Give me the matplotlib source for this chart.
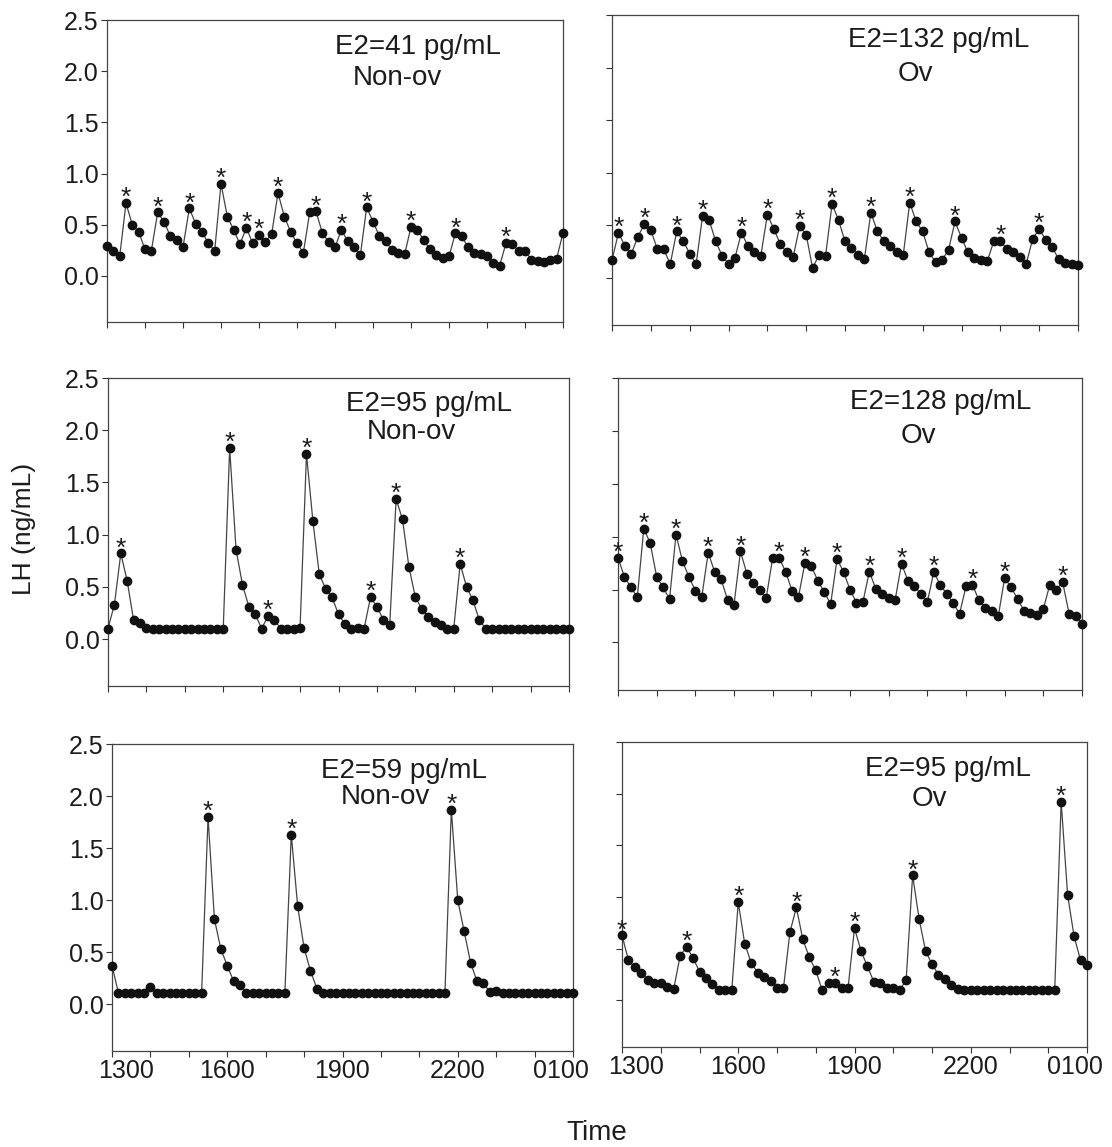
import matplotlib
matplotlib.use("Agg")
import matplotlib.pyplot as plt
import matplotlib.transforms as mtransforms

plt.rcParams['font.family'] = ['Liberation Sans', 'DejaVu Sans']

# sampling every 10 min from 1300 to 0100
minutes = list(range(0, 730, 10))
tick_pos = [0, 180, 360, 540, 720]
tick_lab = ['1300', '1600', '1900', '2200', '0100']

e2_labels = ['E2=41 pg/mL', 'E2=132 pg/mL', 'E2=95 pg/mL',
             'E2=128 pg/mL', 'E2=59 pg/mL', 'E2=95 pg/mL']
status = ['Non-ov', 'Ov', 'Non-ov', 'Ov', 'Non-ov', 'Ov']

lh_a = [0.29, 0.24, 0.19, 0.71, 0.50, 0.43, 0.26, 0.245, 0.62, 0.53,
        0.39, 0.35, 0.28, 0.66, 0.51, 0.43, 0.32, 0.245, 0.90, 0.58,
        0.45, 0.31, 0.47, 0.32, 0.40, 0.33, 0.41, 0.81, 0.58, 0.43,
        0.32, 0.225, 0.62, 0.63, 0.42, 0.33, 0.28, 0.45, 0.34, 0.28,
        0.20, 0.67, 0.53, 0.39, 0.34, 0.25, 0.22, 0.21, 0.48, 0.45,
        0.35, 0.26, 0.20, 0.18, 0.19, 0.415, 0.39, 0.28, 0.22, 0.21,
        0.19, 0.13, 0.10, 0.32, 0.31, 0.245, 0.245, 0.16, 0.15, 0.14,
        0.16, 0.17, 0.42]
peaks_a = [3, 8, 13, 18, 22, 24, 27, 33, 37, 41, 48, 55, 63]

lh_b = [0.165, 0.43, 0.30, 0.23, 0.39, 0.51, 0.45, 0.275, 0.27, 0.13,
        0.44, 0.35, 0.23, 0.13, 0.59, 0.55, 0.35, 0.21, 0.13, 0.19,
        0.43, 0.30, 0.24, 0.21, 0.60, 0.465, 0.32, 0.24, 0.20, 0.49,
        0.41, 0.09, 0.22, 0.21, 0.70, 0.55, 0.345, 0.285, 0.22, 0.18,
        0.62, 0.44, 0.35, 0.30, 0.24, 0.215, 0.715, 0.535, 0.44, 0.24,
        0.15, 0.17, 0.265, 0.535, 0.38, 0.24, 0.19, 0.165, 0.16, 0.35,
        0.35, 0.275, 0.24, 0.20, 0.13, 0.37, 0.465, 0.36, 0.29, 0.18,
        0.14, 0.13, 0.125]
peaks_b = [1, 5, 10, 14, 20, 24, 29, 34, 40, 46, 53, 60, 66]

lh_c = [0.10, 0.33, 0.82, 0.555, 0.18, 0.15, 0.11, 0.10, 0.10, 0.10,
        0.10, 0.10, 0.10, 0.10, 0.10, 0.10, 0.10, 0.10, 0.10, 1.83,
        0.855, 0.52, 0.31, 0.235, 0.10, 0.22, 0.18, 0.10, 0.10, 0.10,
        0.11, 1.77, 1.13, 0.62, 0.48, 0.40, 0.235, 0.145, 0.10, 0.11,
        0.10, 0.40, 0.31, 0.185, 0.135, 1.34, 1.145, 0.69, 0.40, 0.29,
        0.215, 0.16, 0.13, 0.10, 0.10, 0.72, 0.50, 0.37, 0.18, 0.10,
        0.10, 0.10, 0.10, 0.10, 0.10, 0.10, 0.10, 0.10, 0.10, 0.10,
        0.10, 0.10, 0.10]
peaks_c = [2, 19, 25, 31, 41, 45, 55]

lh_d = [0.80, 0.62, 0.52, 0.43, 1.075, 0.94, 0.62, 0.52, 0.41, 1.02,
        0.77, 0.62, 0.49, 0.43, 0.85, 0.665, 0.595, 0.405, 0.355, 0.86,
        0.65, 0.56, 0.50, 0.42, 0.80, 0.80, 0.67, 0.49, 0.43, 0.75,
        0.72, 0.585, 0.475, 0.365, 0.79, 0.665, 0.50, 0.375, 0.38, 0.67,
        0.505, 0.46, 0.42, 0.40, 0.745, 0.58, 0.53, 0.46, 0.38, 0.665,
        0.545, 0.46, 0.375, 0.27, 0.53, 0.545, 0.40, 0.33, 0.295, 0.245,
        0.61, 0.52, 0.41, 0.30, 0.275, 0.26, 0.315, 0.545, 0.50, 0.57,
        0.27, 0.245, 0.175]
peaks_d = [0, 4, 9, 14, 19, 25, 29, 34, 39, 44, 49, 55, 60, 69]

lh_e = [0.37, 0.11, 0.11, 0.11, 0.11, 0.11, 0.165, 0.11, 0.11, 0.11,
        0.11, 0.11, 0.11, 0.11, 0.11, 1.80, 0.815, 0.53, 0.37, 0.22,
        0.18, 0.11, 0.11, 0.11, 0.11, 0.11, 0.11, 0.11, 1.63, 0.94,
        0.54, 0.32, 0.15, 0.11, 0.11, 0.11, 0.11, 0.11, 0.11, 0.11,
        0.11, 0.11, 0.11, 0.11, 0.11, 0.11, 0.11, 0.11, 0.11, 0.11,
        0.11, 0.11, 0.11, 1.87, 1.00, 0.70, 0.40, 0.22, 0.20, 0.12,
        0.13, 0.11, 0.11, 0.11, 0.11, 0.11, 0.11, 0.11, 0.11, 0.11,
        0.11, 0.11, 0.11]
peaks_e = [15, 28, 53]

lh_f = [0.63, 0.39, 0.32, 0.27, 0.20, 0.17, 0.17, 0.13, 0.11, 0.43,
        0.52, 0.41, 0.28, 0.22, 0.16, 0.10, 0.10, 0.10, 0.95, 0.55,
        0.365, 0.27, 0.225, 0.19, 0.12, 0.12, 0.66, 0.90, 0.59, 0.42,
        0.29, 0.10, 0.17, 0.17, 0.12, 0.12, 0.70, 0.48, 0.33, 0.18,
        0.17, 0.12, 0.12, 0.10, 0.20, 1.21, 0.79, 0.48, 0.35, 0.25,
        0.21, 0.145, 0.11, 0.10, 0.10, 0.10, 0.10, 0.10, 0.10, 0.10,
        0.10, 0.10, 0.10, 0.10, 0.10, 0.10, 0.10, 0.10, 1.92, 1.02,
        0.62, 0.39, 0.34]
peaks_f = [0, 10, 18, 27, 33, 36, 45, 68]

series = [lh_a, lh_b, lh_c, lh_d, lh_e, lh_f]
peaks = [peaks_a, peaks_b, peaks_c, peaks_d, peaks_e, peaks_f]

W, H = 1112, 1147
# panel boxes in pixels (left, top, right, bottom)
boxes = [(107, 20, 563, 322), (612, 15, 1078, 325),
         (108, 378, 569, 686), (618, 378, 1082, 690),
         (112, 744, 573, 1051), (622, 742, 1087, 1047)]
# text anchor spots (axes fraction) for the E2 / status labels
txt_pos = [((0.681, 0.911), (0.637, 0.808)), ((0.70, 0.919), (0.65, 0.81)),
           ((0.696, 0.915), (0.657, 0.824)), ((0.696, 0.923), (0.647, 0.814)),
           ((0.633, 0.912), (0.592, 0.827)), ((0.70, 0.911), (0.66, 0.813))]

ink = '#1c1c1c'
fig = plt.figure(figsize=(W / 100, H / 100), dpi=100)

for i in range(6):
    l, t, r, b = boxes[i]
    ax = fig.add_axes([l / W, 1 - b / H, (r - l) / W, (b - t) / H])
    y = series[i]
    ax.plot(minutes, y, color='#444444', lw=0.9, zorder=2, clip_on=False)
    ax.plot(minutes, y, 'o', color='#111111', ms=6, zorder=3, clip_on=False)
    for p in peaks[i]:
        ax.annotate('*', (minutes[p], y[p]), xytext=(0, -1.5),
                    textcoords='offset points', ha='center', va='baseline',
                    fontsize=19, color=ink)

    ax.set_xlim(0, 720)
    ax.set_ylim(-0.45, 2.5)
    ax.set_yticks([0.0, 0.5, 1.0, 1.5, 2.0, 2.5])
    ax.set_xticks(tick_pos)
    ax.set_xticks(range(0, 721, 60), minor=True)
    ax.tick_params(which='both', direction='out', length=4, width=0.8,
                   color='#333333', labelsize=18, labelcolor=ink, pad=2)
    if i % 2 == 0:
        ax.set_yticklabels(['0.0', '0.5', '1.0', '1.5', '2.0', '2.5'])
    else:
        ax.set_yticklabels([])
    if i >= 4:
        ax.set_xticklabels(tick_lab)
        # pull the end labels inward a little, like the original
        labs = ax.get_xticklabels()
        shift_l = mtransforms.ScaledTranslation(14 / 100, 0, fig.dpi_scale_trans)
        shift_r = mtransforms.ScaledTranslation(-12 / 100, 0, fig.dpi_scale_trans)
        labs[0].set_transform(labs[0].get_transform() + shift_l)
        labs[-1].set_transform(labs[-1].get_transform() + shift_r)
    else:
        ax.set_xticklabels([])
    for s in ax.spines.values():
        s.set_color('#444444')
        s.set_linewidth(0.9)

    (ex, ey), (sx, sy) = txt_pos[i]
    ax.text(ex, ey, e2_labels[i], transform=ax.transAxes, ha='center',
            va='center', fontsize=20, color=ink)
    ax.text(sx, sy, status[i], transform=ax.transAxes, ha='center',
            va='center', fontsize=20, color=ink)

fig.text(24 / W, 1 - 529 / H, 'LH (ng/mL)', rotation=90, ha='center',
         va='center', fontsize=19, color=ink)
fig.text(597 / W, 1 - 1133 / H, 'Time', ha='center', va='center',
         fontsize=20, color=ink)

fig.savefig('out.png', dpi=100)
